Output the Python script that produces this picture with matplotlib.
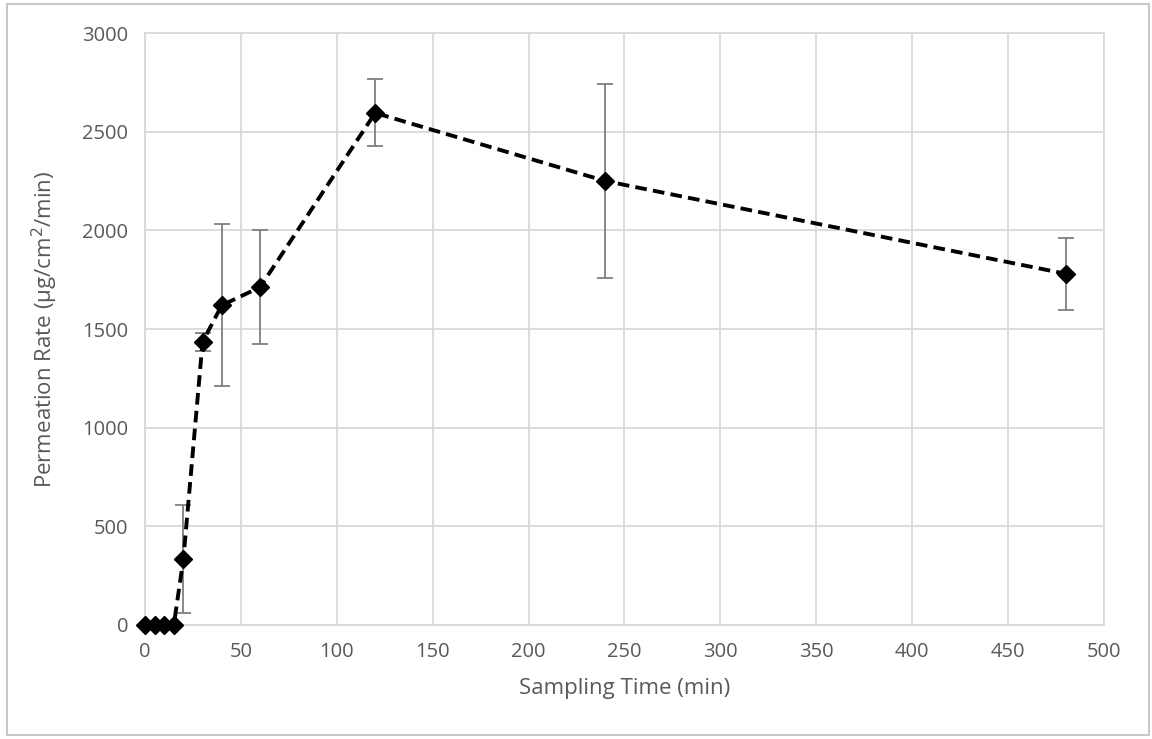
import matplotlib.pyplot as plt
from matplotlib.patches import Rectangle

# data
sampling_time = [0, 5, 10, 15, 20, 30, 40, 60, 120, 240, 480]
permeation_rate = [0, 0, 0, 0, 335, 1435, 1620, 1712, 2595, 2250, 1780]
rate_error = [0, 0, 0, 0, 275, 45, 410, 290, 170, 494, 182]

x_ticks = [0, 50, 100, 150, 200, 250, 300, 350, 400, 450, 500]
y_ticks = [0, 500, 1000, 1500, 2000, 2500, 3000]

TEXT = '#595959'
GRID = '#d9d9d9'

plt.rcParams['font.family'] = ['Open Sans', 'DejaVu Sans']

fig = plt.figure(figsize=(11.52, 7.39), dpi=100)
ax = fig.add_axes([0.1259, 0.1543, 0.8324, 0.801])

# outer chart border
fig.patches.append(Rectangle((7 / 1152, 4 / 739), 1142 / 1152, 731 / 739,
                             transform=fig.transFigure, fill=False,
                             edgecolor='#c8c8c8', linewidth=1.5))

ax.errorbar(sampling_time, permeation_rate, yerr=rate_error, fmt='none',
            ecolor='#7f7f7f', elinewidth=1.3, capsize=6, capthick=1.3, zorder=2)
ax.plot(sampling_time, permeation_rate, linestyle=(0, (3, 1.6)), color='black',
        linewidth=2.8, marker='D', markersize=9.5, markerfacecolor='black',
        markeredgecolor='black', zorder=3, clip_on=False)

ax.set_xlim(0, 500)
ax.set_ylim(0, 3000)
ax.set_xticks(x_ticks)
ax.set_yticks(y_ticks)
ax.grid(True, color=GRID, linewidth=1.3)
ax.set_axisbelow(True)
for side in ['top', 'right', 'left', 'bottom']:
    ax.spines[side].set_color(GRID)
    ax.spines[side].set_linewidth(1.3)
ax.tick_params(length=0, labelsize=14.5, colors=TEXT, pad=12)

ax.set_xlabel('Sampling Time (min)', fontsize=16, color=TEXT, labelpad=12)
ax.set_ylabel('Permeation Rate (μg/cm$^2$/min)', fontsize=16, color=TEXT, labelpad=16)

fig.savefig('out.png', dpi=100, facecolor='white')
plt.close()
